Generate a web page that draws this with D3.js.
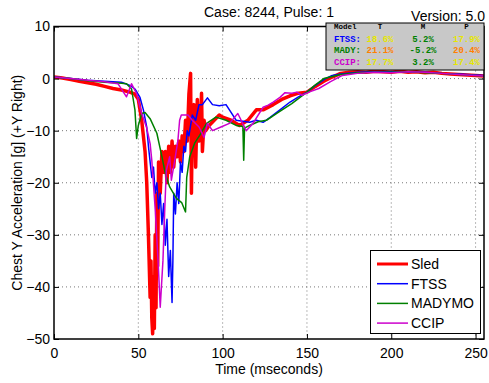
<!DOCTYPE html>
<html><head><meta charset="utf-8">
<script src="https://cdn.jsdelivr.net/npm/d3@7"></script>
<style>body{margin:0;background:#fff}svg{display:block}</style>
</head><body><svg id="c" width="489" height="383"></svg>
<script>
const title = "Case: 8244, Pulse: 1";
const version = "Version: 5.0";
const xTicks = [0,50,100,150,200,250];
const yTicks = [10,0,-10,-20,-30,-40,-50];

const sledT = [0,5,10,15,20,25,30,35,40,45,48,50,52,54,55,56,57,57.5,58,58.5,59,59.5,60,60.5,61,61.5,62,63,64,65,66,67,68,69,70,71,72,73,74,75,76,77,78,79,80,81,81.5,82,83,84,85,86,87,87.5,88,89,90,92,95,98,100,105,110,115,120,124,130,135,140,145,150,155,160,165,170,175,180,185,190,195,200,205,210,215,220,225,230,235,240,245,250,255];
const sledV = [0.3,0.1,-0.2,-0.5,-0.8,-1.1,-1.5,-1.9,-2.2,-2.6,-3,-4,-8,-14,-20,-30,-42,-35,-46,-49,-38,-48,-30,-44,-22,-36,-16,-22,-14,-18,-14,-20,-13,-18,-12,-17,-13,-15,-12,-16,-11,-14,-8,-12,-3,1,-22,-8,-5,-17,-4,-12,-8,-2.8,-14,-8,-10,-9,-8,-7,-7.4,-8,-9,-8,-6,-6,-5,-4,-3.3,-2.8,-2.6,-1.5,-0.5,0.3,1.0,1.2,1.3,1.2,1.4,1.3,1.2,1.4,1.2,1.3,1.1,1.2,1.0,0.9,0.8,0.7,0.6,0.5];

const ftssT = [0,10,20,30,40,45,48,51,53,55,56,57,58,59,60,61,62,63,64,65,66,67,68,69,70,70.5,71,72,73,74,75,76,77,78,79,80,82,84,86,88,91,94,98,102,105,108,112,116,120,124,128,134,140,145,150,155,161,165,170,180,190,200,210,220,230,240,250,255];
const ftssV = [0.3,0,-0.3,-0.5,-0.7,-1.3,-2,-3.6,-6,-9.3,-13,-16,-19,-17,-22,-20,-25,-22,-28,-24,-32,-27,-38,-33,-43,-35,-22,-26,-20,-24,-16,-18,-13,-14,-10,-11,-7,-8,-5,-5,-3.7,-5,-5.2,-5,-6.5,-8,-8.2,-8.4,-8,-8.4,-7.5,-6,-4.5,-3.5,-2.6,-1.3,0,0.6,0.9,1.2,1.3,1.3,1.2,1.2,1.0,0.9,0.7,0.6];

const madyT = [0,10,20,30,40,43,46,48,49,50,52,54,57,61,64,66,68.6,72.6,75.7,78,78.7,80.5,83.4,86.4,90.5,96,102,108,112,112.5,113,116,121,126,133,141,150,155,160,170,180,190,200,210,220,230,240,250,255];
const madyV = [0.3,0,-0.4,-0.7,-0.9,-1,-2,-6,-11.5,-9,-6.7,-6.5,-7.7,-10.5,-15,-18.2,-20.8,-23,-23.8,-25.6,-19,-15,-12.4,-10.9,-8.6,-7.4,-8,-9,-9.2,-15.7,-9.5,-9,-8.3,-8,-6.5,-4.8,-2.6,-1.2,0,0.8,1.1,1.2,1.2,1.3,1.1,1.0,0.8,0.6,0.5];

const ccipT = [0,10,20,30,38,43,46,49,52,55,57,58,60,61.7,63,64.6,65.7,66.6,68.6,69.6,71.6,73.5,74.5,75.5,79.5,82,86,89,91,94,99,104,109,114,118,124,127,130,134,137,141,144,147,152,157,164,171,180,190,200,210,220,230,240,250,255];
const ccipV = [0.3,0,-0.3,-0.6,-1,-3.5,-1,-2.9,-6.7,-9.5,-12.5,-15.7,-25,-34.9,-43.9,-35,-25,-17.6,-15,-19.5,-15.7,-11.8,-8,-7,-7,-8,-9.3,-11.3,-8.6,-10,-9.3,-8.6,-6.7,-10,-8.6,-5.5,-5.1,-4.5,-3.6,-2.7,-2.8,-2.6,-3.2,-2.5,-1.9,-0.6,0.6,1.0,1.2,1.1,1.3,1.2,1.0,0.8,0.6,0.5];

const series = [
  {name:"Sled", t:sledT, v:sledV, color:"#ff0000", w:3.5},
  {name:"FTSS", t:ftssT, v:ftssV, color:"#0000ff", w:1.5},
  {name:"MADYMO", t:madyT, v:madyV, color:"#008000", w:1.5},
  {name:"CCIP", t:ccipT, v:ccipV, color:"#cc00cc", w:1.5}
];

const tableHeader = ["Model","T","M","P"];
const tableModels = ["FTSS:","MADY:","CCIP:"];
const tableModelColors = ["#0000ff","#008000","#cc00cc"];
const tableT = ["18.6%","21.1%","17.7%"];
const tableM = ["5.2%","-5.2%","3.2%"];
const tableP = ["17.9%","20.4%","17.4%"];
const tableTColors = ["#e6e600","#ff8000","#e6e600"];
const tableMColors = ["#008000","#008000","#008000"];
const tablePColors = ["#e6e600","#ff8000","#e6e600"];

const svg = d3.select("#c");
const L=54, R=484, T=26.5, B=339;
const x = d3.scaleLinear([0,255],[L,R]);
const y = d3.scaleLinear([-50,10],[B,T]);
const font = "'Liberation Sans', Arial, sans-serif";

// grid
const g = svg.append("g");
g.selectAll(".gx").data(xTicks.filter(d=>d>0)).join("line")
  .attr("x1",d=>x(d)).attr("x2",d=>x(d)).attr("y1",T).attr("y2",B)
  .attr("stroke","#555").attr("stroke-width",0.8).attr("stroke-dasharray","1,3");
g.selectAll(".gy").data(yTicks.filter(d=>d>-50&&d<10)).join("line")
  .attr("y1",d=>y(d)).attr("y2",d=>y(d)).attr("x1",L).attr("x2",R)
  .attr("stroke","#555").attr("stroke-width",0.8).attr("stroke-dasharray","1,3");

// curves
svg.append("clipPath").attr("id","clip").append("rect").attr("x",L).attr("y",T).attr("width",R-L).attr("height",B-T);
const line = d3.line().x(d=>x(d[0])).y(d=>y(d[1]));
const cg = svg.append("g").attr("clip-path","url(#clip)");
series.forEach(s=>{
  cg.append("path").datum(s.t.map((t,i)=>[t,s.v[i]]))
    .attr("d",line).attr("fill","none").attr("stroke",s.color)
    .attr("stroke-width",s.w).attr("stroke-linejoin","round");
});

// axes
const ax = svg.append("g").attr("transform",`translate(0,${B})`)
  .call(d3.axisBottom(x).tickValues(xTicks).tickSize(-5).tickPadding(9).tickSizeOuter(0));
const ay = svg.append("g").attr("transform",`translate(${L},0)`)
  .call(d3.axisLeft(y).tickValues(yTicks).tickSize(-5).tickPadding(4).tickSizeOuter(0));
const at = svg.append("g").attr("transform",`translate(0,${T})`)
  .call(d3.axisTop(x).tickValues(xTicks).tickSize(-5).tickFormat("").tickSizeOuter(0));
const ar = svg.append("g").attr("transform",`translate(${R},0)`)
  .call(d3.axisRight(y).tickValues(yTicks).tickSize(-5).tickFormat("").tickSizeOuter(0));
[ax,ay,at,ar].forEach(a=>{
  a.select(".domain").remove();
  a.selectAll("line").attr("stroke","#000");
  a.selectAll("text").attr("font-family",font).attr("font-size",14).attr("fill","#000");
});
svg.append("rect").attr("x",L).attr("y",T).attr("width",R-L).attr("height",B-T)
  .attr("fill","none").attr("stroke","#000").attr("stroke-width",1.5);

// titles
svg.append("text").attr("x",(L+R)/2).attr("y",17).attr("text-anchor","middle")
  .attr("font-family",font).attr("font-size",14).text(title);
svg.append("text").attr("x",(L+R)/2).attr("y",374).attr("text-anchor","middle")
  .attr("font-family",font).attr("font-size",14).text("Time (mseconds)");
svg.append("text").attr("transform",`translate(22,${(T+B)/2}) rotate(-90)`).attr("text-anchor","middle")
  .attr("font-family",font).attr("font-size",14).text("Chest Y Acceleration [g] (+Y Right)");

// stats table
const tb = svg.append("g");
tb.append("rect").attr("x",326).attr("y",23).attr("width",158).attr("height",47)
  .attr("fill","#c8c8c8").attr("stroke","#000").attr("stroke-width",1);
const cx = [334,380,423,466.5];
const mono = "'Liberation Mono','DejaVu Sans Mono',monospace";
tableHeader.forEach((h,i)=>{
  tb.append("text").attr("x",cx[i]).attr("y",28.5).attr("text-anchor",i===0?"start":"middle")
    .attr("font-family",mono).attr("font-weight","bold").attr("font-size",7.5).text(h);
});
const rowsY = [41.5,53,64.5];
tableModels.forEach((m,i)=>{
  const cells = [[m,tableModelColors[i]],[tableT[i],tableTColors[i]],[tableM[i],tableMColors[i]],[tableP[i],tablePColors[i]]];
  cells.forEach((c,j)=>{
    tb.append("text").attr("x",cx[j]).attr("y",rowsY[i]).attr("text-anchor",j===0?"start":"middle")
      .attr("font-family",mono).attr("font-weight","bold").attr("font-size",9)
      .attr("fill",c[1]).text(c[0]);
  });
});
svg.append("text").attr("x",485).attr("y",21).attr("text-anchor","end")
  .attr("font-family",font).attr("font-size",14).text(version);

// legend
const lg = svg.append("g");
lg.append("rect").attr("x",370.5).attr("y",250.5).attr("width",110).attr("height",83)
  .attr("fill","#fff").attr("stroke","#000").attr("stroke-width",1);
series.forEach((s,i)=>{
  const yy = 264 + i*19.7;
  lg.append("line").attr("x1",377).attr("x2",408).attr("y1",yy).attr("y2",yy)
    .attr("stroke",s.color).attr("stroke-width",s.name==="Sled"?3:1.5);
  lg.append("text").attr("x",411).attr("y",yy+5).attr("font-family",font).attr("font-size",14).text(s.name);
});
</script></body></html>
